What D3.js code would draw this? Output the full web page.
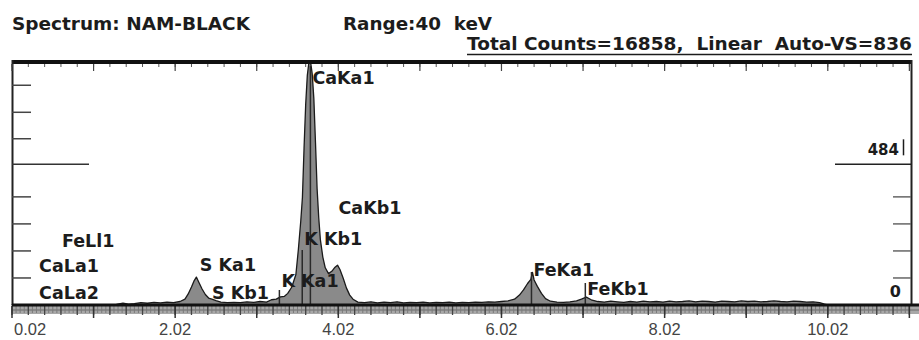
<!DOCTYPE html>
<html><head><meta charset="utf-8">
<script src="https://cdn.jsdelivr.net/npm/d3@7"></script>
<style>body{margin:0;background:#fff;} svg{display:block;}</style>
</head><body><svg id="chart" width="919" height="340"></svg>
<script>
// EDS spectrum "NAM-BLACK": sampled energies (keV) and counts
const energyKeV = [0.02,1.20,1.30,1.38,1.45,1.52,1.60,1.68,1.76,1.84,1.92,2.00,2.08,2.14,2.18,2.22,2.25,2.28,2.31,2.35,2.39,2.43,2.47,2.52,2.58,2.66,2.74,2.82,2.90,2.98,3.06,3.14,3.20,3.26,3.31,3.36,3.40,3.45,3.50,3.53,3.56,3.58,3.60,3.62,3.64,3.66,3.68,3.70,3.72,3.74,3.76,3.78,3.80,3.83,3.86,3.90,3.94,3.98,4.01,4.04,4.08,4.12,4.16,4.20,4.26,4.34,4.42,4.50,4.58,4.66,4.74,4.82,4.90,4.98,5.06,5.14,5.22,5.30,5.38,5.46,5.54,5.62,5.70,5.78,5.86,5.94,6.02,6.10,6.18,6.24,6.29,6.34,6.38,6.40,6.42,6.46,6.51,6.56,6.62,6.70,6.78,6.86,6.94,7.00,7.06,7.12,7.20,7.28,7.36,7.44,7.52,7.60,7.68,7.76,7.84,7.92,8.00,8.08,8.16,8.24,8.32,8.40,8.48,8.56,8.64,8.72,8.80,8.88,8.96,9.04,9.12,9.20,9.28,9.36,9.44,9.52,9.60,9.68,9.76,9.84,9.92,9.98,10.02,11.04];
const counts = [0,0,2,6,3,5,8,6,9,7,10,8,12,20,38,62,82,96,78,55,36,24,20,15,10,8,9,8,11,9,12,10,18,20,28,30,40,62,105,190,290,370,540,690,790,836,836,795,710,560,400,300,225,165,128,108,116,130,137,122,92,58,34,20,10,8,11,7,10,8,11,7,9,8,10,7,9,8,10,7,9,8,10,9,11,10,12,14,20,34,52,74,88,112,86,64,40,22,13,10,9,11,14,20,27,18,12,10,13,11,9,12,10,13,11,12,10,13,11,12,14,11,13,12,10,13,12,11,14,12,13,11,12,14,12,11,13,12,10,11,8,3,0,0];

// Identified X-ray lines
const peakNames = ["CaLa2","CaLa1","FeLl1","S Ka1","S Kb1","K Ka1","K Kb1","CaKa1","CaKb1","FeKa1","FeKb1"];
const peakEnergies = [0.34,0.34,0.62,2.31,2.46,3.31,3.59,3.69,4.01,6.40,7.06];

// Axis annotations
const xTickValues = [0.02,2.02,4.02,6.02,8.02,10.02];
const xTickLabels = ["0.02","2.02","4.02","6.02","8.02","10.02"];
const yTickCounts = [93,186,279,372,572,663,756];
const yRightTickCounts = [93,186,279,372];
const cursorCounts = 484;
const fullScaleCounts = 836;

const headerLeft = "Spectrum: NAM-BLACK";
const headerRange = "Range:40  keV";
const headerRight = "Total Counts=16858,  Linear  Auto-VS=836";

const svg = d3.select("#chart");
const plot = {left: 12, right: 911, top: 62, base: 305};

const x = d3.scaleLinear().domain([0.02, 11.04]).range([plot.left, plot.right]);
const y = d3.scaleLinear().domain([0, fullScaleCounts]).range([plot.base, plot.top]);

const boldFont = "'DejaVu Sans', sans-serif";
const ink = "#1c1c1c";

// header lines
svg.append("text").attr("x", 12).attr("y", 30).text(headerLeft)
  .attr("font-family", boldFont).attr("font-weight", "bold").attr("font-size", 18)
  .attr("fill", ink).attr("textLength", 238).attr("lengthAdjust", "spacingAndGlyphs");
svg.append("text").attr("x", 343).attr("y", 30).text(headerRange)
  .style("white-space", "pre")
  .attr("font-family", boldFont).attr("font-weight", "bold").attr("font-size", 18)
  .attr("fill", ink).attr("textLength", 149).attr("lengthAdjust", "spacingAndGlyphs");
svg.append("text").attr("x", 467).attr("y", 50).text(headerRight)
  .style("white-space", "pre")
  .attr("font-family", boldFont).attr("font-weight", "bold").attr("font-size", 18)
  .attr("fill", ink).attr("textLength", 445).attr("lengthAdjust", "spacingAndGlyphs");
svg.append("line").attr("x1", 467).attr("x2", 912).attr("y1", 54.5).attr("y2", 54.5)
  .attr("stroke", ink).attr("stroke-width", 1.5);

// spectrum area
const area = d3.area()
  .x((d, i) => x(energyKeV[i]))
  .y0(plot.base)
  .y1(d => y(d));
svg.append("path").datum(counts).attr("d", area)
  .attr("fill", "#8a8a8a").attr("stroke", "#1a1a1a").attr("stroke-width", 1.3)
  .attr("stroke-linejoin", "round");

// line markers inside the main peaks
const markerTop = {"CaKa1": 66, "FeKa1": 272, "FeKb1": 283, "K Ka1": 290, "K Kb1": 250};
peakNames.forEach((n, i) => {
  if (markerTop[n] === undefined) return;
  svg.append("line").attr("x1", x(peakEnergies[i]) - 1).attr("x2", x(peakEnergies[i]) - 1)
    .attr("y1", plot.base).attr("y2", markerTop[n])
    .attr("stroke", "#2a2a2a").attr("stroke-width", 1.5);
});

// peak labels
const labelBaseline = {"CaLa2": 299, "CaLa1": 272, "FeLl1": 247, "S Ka1": 271, "S Kb1": 299,
  "K Ka1": 287, "K Kb1": 245, "CaKa1": 84, "CaKb1": 214, "FeKa1": 276, "FeKb1": 295};
peakNames.forEach((n, i) => {
  svg.append("text").attr("x", x(peakEnergies[i]) + 1).attr("y", labelBaseline[n])
    .text(n).attr("font-family", boldFont).attr("font-weight", "bold")
    .attr("font-size", 17.5).attr("fill", ink);
});

// frame
svg.append("rect").attr("x", plot.left).attr("y", 60).attr("width", plot.right - plot.left + 1).attr("height", 4).attr("fill", "#111");
svg.append("rect").attr("x", plot.left - 0.5).attr("y", 60).attr("width", 2).attr("height", plot.base - 60).attr("fill", "#222");
svg.append("rect").attr("x", plot.right - 0.5).attr("y", 60).attr("width", 2).attr("height", plot.base - 60).attr("fill", "#222");

// energy ticks (top edge and bottom axis)
const fine = d3.range(0.02, 11.05, 0.05);
const minor = d3.range(0.02, 11.05, 0.2);
const major = d3.range(0.02, 11.05, 1);
svg.append("rect").attr("x", plot.left).attr("y", 306).attr("width", 919 - plot.left).attr("height", 8).attr("fill", "#a8a8a8");
svg.append("line").attr("x1", plot.left).attr("x2", 919).attr("y1", 310).attr("y2", 310).attr("stroke", "#6a6a6a").attr("stroke-width", 1.2);
svg.selectAll(".fine").data(fine).join("line")
  .attr("x1", d => x(d)).attr("x2", d => x(d)).attr("y1", 306).attr("y2", 313)
  .attr("stroke", "#7a7a7a").attr("stroke-width", 1);
svg.selectAll(".minor").data(minor).join("line")
  .attr("x1", d => x(d)).attr("x2", d => x(d)).attr("y1", 306).attr("y2", 315)
  .attr("stroke", "#444").attr("stroke-width", 1.3);
svg.selectAll(".major").data(major).join("line")
  .attr("x1", d => x(d)).attr("x2", d => x(d)).attr("y1", 306).attr("y2", 318)
  .attr("stroke", "#333").attr("stroke-width", 1.5);
svg.append("rect").attr("x", plot.left).attr("y", plot.base - 1.5).attr("width", 919 - plot.left).attr("height", 3).attr("fill", "#111");

svg.selectAll(".tminor").data(minor).join("line")
  .attr("x1", d => x(d)).attr("x2", d => x(d)).attr("y1", 64).attr("y2", 67)
  .attr("stroke", "#555").attr("stroke-width", 1);
svg.selectAll(".tmajor").data(major).join("line")
  .attr("x1", d => x(d)).attr("x2", d => x(d)).attr("y1", 64).attr("y2", 71)
  .attr("stroke", "#444").attr("stroke-width", 1.2);

// energy labels
svg.selectAll(".xl").data(xTickValues).join("text")
  .attr("x", (d, i) => i === 0 ? x(d) + 2 : x(d))
  .attr("y", 335)
  .attr("text-anchor", (d, i) => i === 0 ? "start" : "middle")
  .text((d, i) => xTickLabels[i])
  .attr("font-family", "'Liberation Sans', Arial, sans-serif").attr("font-size", 16.5)
  .attr("fill", "#444");

// count ticks
svg.selectAll(".yl").data(yTickCounts).join("line")
  .attr("x1", plot.left).attr("x2", plot.left + 19).attr("y1", d => y(d)).attr("y2", d => y(d))
  .attr("stroke", "#444").attr("stroke-width", 1.5);
svg.selectAll(".yr").data(yRightTickCounts).join("line")
  .attr("x1", plot.right - 18).attr("x2", plot.right).attr("y1", d => y(d)).attr("y2", d => y(d))
  .attr("stroke", "#666").attr("stroke-width", 1.5);

// cursor level
svg.append("line").attr("x1", plot.left).attr("x2", plot.left + 77).attr("y1", y(cursorCounts)).attr("y2", y(cursorCounts))
  .attr("stroke", "#333").attr("stroke-width", 1.5);
svg.append("line").attr("x1", plot.right - 76).attr("x2", plot.right).attr("y1", y(cursorCounts)).attr("y2", y(cursorCounts))
  .attr("stroke", "#222").attr("stroke-width", 1.5);
svg.append("text").attr("x", 899).attr("y", y(cursorCounts) - 9).attr("text-anchor", "end")
  .text(cursorCounts).attr("font-family", boldFont).attr("font-weight", "bold").attr("font-size", 15)
  .attr("fill", ink);
svg.append("line").attr("x1", 903.5).attr("x2", 903.5).attr("y1", y(cursorCounts) - 25).attr("y2", y(cursorCounts) - 9)
  .attr("stroke", ink).attr("stroke-width", 1.5);
svg.append("text").attr("x", 901).attr("y", 297).attr("text-anchor", "end")
  .text("0").attr("font-family", boldFont).attr("font-weight", "bold").attr("font-size", 16)
  .attr("fill", ink);
</script></body></html>
